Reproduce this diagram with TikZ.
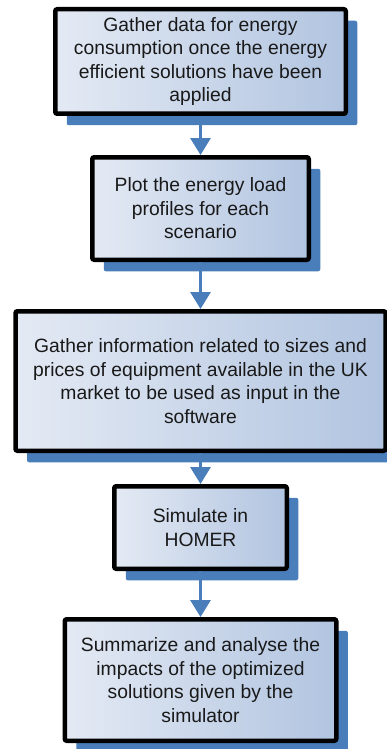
\documentclass[tikz,border=0pt]{standalone}
\usepackage{fontspec}
\setmainfont{Liberation Sans}
\usetikzlibrary{arrows.meta,positioning,shadows}
\definecolor{boxlight}{HTML}{E4EAF4}
\definecolor{boxdark}{HTML}{B1C4E0}
\definecolor{flowblue}{HTML}{4A7EBB}
\tikzset{process/.style={rectangle, draw=black, line width=4.5pt, rounded corners=2pt,
    left color=boxlight, right color=boxdark, text=black!90, align=center,
    font=\fontsize{19.3}{23.5}\selectfont, inner sep=0pt,
    drop shadow={shadow xshift=11.5pt, shadow yshift=-11.5pt, fill=flowblue, opacity=1}},
  flow/.style={draw=flowblue, line width=3pt, -{Triangle[width=20pt,length=17pt]}}}

\begin{document}
\begin{tikzpicture}[x=1pt, y=1pt]
   \useasboundingbox (0,0) rectangle (386,-749);
   \node[process, minimum width=290.5pt, minimum height=104.5pt] (1) at (200.5,-61.5)
      {Gather data for energy\\consumption once the energy\\efficient solutions have been\\applied};
   \node[process, minimum width=216.5pt, minimum height=102.5pt] (2) [below=39pt of 1]
      {Plot the energy load\\profiles for each\\scenario};
   \node[process, minimum width=370pt, minimum height=139.5pt] (3) [below=47pt of 2]
      {Gather information related to sizes and\\prices of equipment available in the UK\\market to be used as input in the\\software};
   \node[process, minimum width=172.5pt, minimum height=82.5pt] (4) [below=31pt of 3]
      {Simulate in\\HOMER};
   \node[process, minimum width=271.5pt, minimum height=121.5pt] (5) [below=46pt of 4]
      {Summarize and analyse the\\impacts of the optimized\\solutions given by the\\simulator};
    \draw[flow] (1) -- (2);
    \draw[flow] (2) -- (3);
    \draw[flow] (3) -- (4);
    \draw[flow] (4) -- (5);
\end{tikzpicture}
\end{document}
